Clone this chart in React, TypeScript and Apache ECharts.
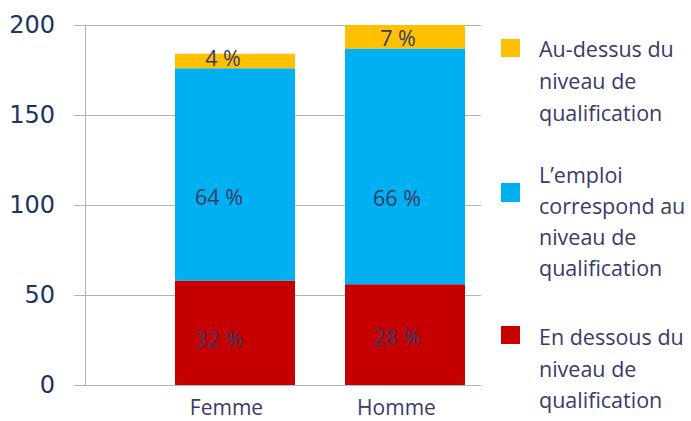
import React, { useEffect, useRef } from "react";
import * as echarts from "echarts";

const categories = ["Femme", "Homme"];
const belowValues = [58, 56];
const matchValues = [118, 131];
const aboveValues = [8, 13];
const belowLabels = ["32 %", "28 %"];
const matchLabels = ["64 %", "66 %"];
const aboveLabels = ["4 %", "7 %"];
const yTicks = { min: 0, max: 200, interval: 50 };
const legendNames = [
  "Au-dessus du\nniveau de\nqualification",
  "L’emploi\ncorrespond au\nniveau de\nqualification",
  "En dessous du\nniveau de\nqualification",
];
const colors = ["#FFC000", "#00B0F0", "#C60000"];

const TEXT = "#3a3a68";
const FONT = "Open Sans";
const FS = 21.5;

export default function App() {
  const ref = useRef<HTMLDivElement>(null);
  useEffect(() => {
    if (!ref.current) return;
    const chart = echarts.init(ref.current, undefined, { renderer: "svg" });

    const mk = (vals: number[], labels: string[], offsets: number[][]) =>
      vals.map((v, i) => ({
        value: v,
        label: { formatter: labels[i], offset: offsets[i] },
      }));

    const labelStyle = {
      show: true,
      position: "inside",
      color: TEXT,
      fontFamily: FONT,
      fontSize: FS,
    };

    chart.setOption({
      animation: false,
      grid: [
        { left: 85, right: 210, top: 25, bottom: 36 },
        { left: 150, width: 340, top: 25, bottom: 36 },
      ],
      xAxis: [
        { type: "value", gridIndex: 0, show: false, min: 0, max: 1 },
        {
          type: "category",
          gridIndex: 1,
          data: categories,
          axisLine: { show: false },
          axisTick: { show: false },
          axisLabel: {
            color: TEXT,
            fontFamily: FONT,
            fontSize: 21,
            lineHeight: 20,
            margin: 12,
            padding: [0, 17, 0, 0],
          },
        },
      ],
      yAxis: [
        {
          type: "value",
          gridIndex: 0,
          min: yTicks.min,
          max: yTicks.max,
          interval: yTicks.interval,
          axisLine: { show: true, lineStyle: { color: "#b3b3b3", width: 1 } },
          axisTick: { show: true, length: 11, lineStyle: { color: "#b3b3b3" } },
          splitLine: { show: true, lineStyle: { color: "#b3b3b3", width: 1 } },
          axisLabel: {
            color: "#1c3463",
            fontFamily: "DejaVu Sans",
            fontSize: 24,
            margin: 30,
          },
        },
        {
          type: "value",
          gridIndex: 1,
          min: yTicks.min,
          max: yTicks.max,
          show: false,
          splitLine: { show: false },
        },
      ],
      series: [
        {
          name: "En dessous",
          type: "bar",
          stack: "s",
          xAxisIndex: 1,
          yAxisIndex: 1,
          barWidth: 120,
          itemStyle: { color: colors[2] },
          label: labelStyle,
          data: mk(belowValues, belowLabels, [[-16, 6], [-8, 2]]),
        },
        {
          name: "Correspond",
          type: "bar",
          stack: "s",
          xAxisIndex: 1,
          yAxisIndex: 1,
          barWidth: 120,
          itemStyle: { color: colors[1] },
          label: labelStyle,
          data: mk(matchValues, matchLabels, [[-16, 22], [-8, 31]]),
        },
        {
          name: "Au-dessus",
          type: "bar",
          stack: "s",
          xAxisIndex: 1,
          yAxisIndex: 1,
          barWidth: 120,
          itemStyle: { color: colors[0] },
          label: labelStyle,
          data: mk(aboveValues, aboveLabels, [[-12, -4], [-7, 1]]),
        },
      ],
      graphic: [
        { type: "rect", shape: { x: 501, y: 39, width: 19, height: 18 }, style: { fill: colors[0] } },
        { type: "rect", shape: { x: 501, y: 183, width: 19, height: 19 }, style: { fill: colors[1] } },
        { type: "rect", shape: { x: 501, y: 326, width: 19, height: 18 }, style: { fill: colors[2] } },
        {
          type: "text",
          x: 539,
          y: 32,
          style: { text: legendNames[0], fill: TEXT, font: `${FS}px "${FONT}"`, lineHeight: 32, verticalAlign: "top" },
        },
        {
          type: "text",
          x: 539,
          y: 159,
          style: { text: legendNames[1], fill: TEXT, font: `${FS}px "${FONT}"`, lineHeight: 31, verticalAlign: "top" },
        },
        {
          type: "text",
          x: 539,
          y: 321,
          style: { text: legendNames[2], fill: TEXT, font: `${FS}px "${FONT}"`, lineHeight: 31.5, verticalAlign: "top" },
        },
      ],
    });
    return () => chart.dispose();
  }, []);

  return (
    <div
      ref={ref}
      style={{ position: "fixed", left: 0, top: 0, width: 691, height: 421, background: "#fff" }}
    />
  );
}
